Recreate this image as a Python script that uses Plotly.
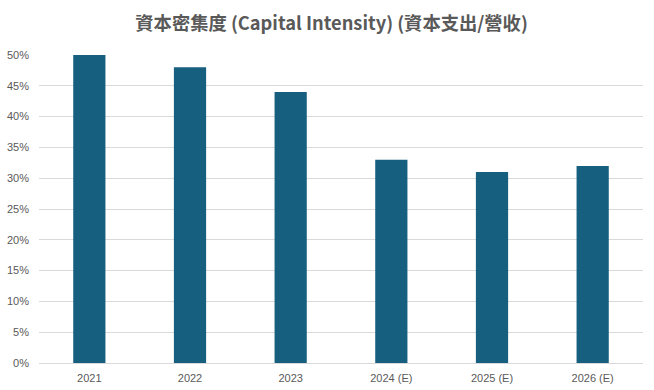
import plotly.graph_objects as go

categories = ["2021", "2022", "2023", "2024 (E)", "2025 (E)", "2026 (E)"]
capital_intensity = [0.50, 0.48, 0.44, 0.33, 0.31, 0.32]
y_ticks = [i * 0.05 for i in range(11)]
y_tick_labels = [f"{i*5}%" for i in range(11)]

fig = go.Figure(go.Bar(
    x=categories, y=capital_intensity,
    marker=dict(color="#175f7f", line=dict(width=0)),
    width=0.32,
    hoverinfo="skip",
))
fig.update_layout(
    width=654, height=390,
    margin=dict(l=39, r=11, t=55, b=27),
    paper_bgcolor="white", plot_bgcolor="white",
    title=dict(text="<b>資本密集度 (Capital Intensity) (資本支出/營收)</b>",
               x=0.507, xanchor="center", y=0.94, yanchor="middle",
               font=dict(family="Noto Sans CJK TC", size=18.3, color="#595959")),
    showlegend=False,
)
fig.update_yaxes(range=[0, 0.5], tickvals=y_ticks, ticktext=y_tick_labels,
                 showgrid=True, gridcolor="#d9d9d9", gridwidth=1,
                 zeroline=False, showline=False, ticks="", automargin=False,
                 ticklabelstandoff=9,
                 tickfont=dict(family="Liberation Sans", size=11, color="#595959"))
fig.update_xaxes(showline=True, linecolor="#d9d9d9", linewidth=1, ticks="",
                 automargin=False, ticklabelstandoff=5,
                 tickfont=dict(family="Liberation Sans", size=11, color="#595959"))
fig.write_html("out.html", config={"displayModeBar": False},
               post_script="document.body.style.margin='0';")
